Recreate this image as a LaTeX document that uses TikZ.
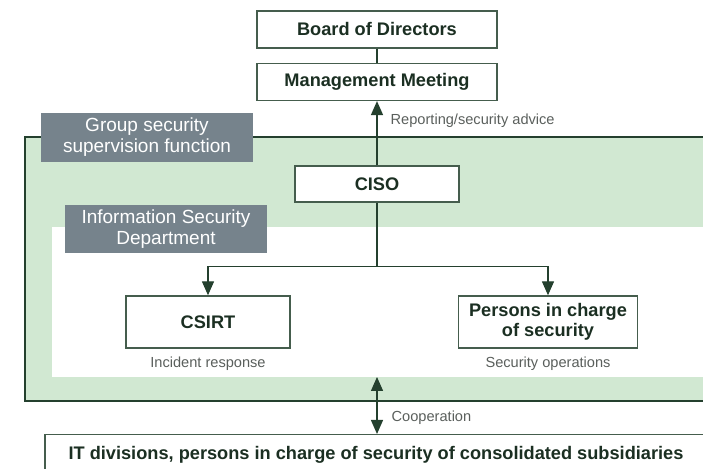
\documentclass[tikz,border=0pt]{standalone}
\usepackage{fontspec}
\setmainfont{Liberation Sans}
\usetikzlibrary{positioning,arrows.meta,calc}
\definecolor{linegreen}{HTML}{24402E}
\definecolor{textgreen}{HTML}{1B2F22}
\definecolor{panelgreen}{HTML}{D1E8D2}
\definecolor{tabgray}{HTML}{76838C}
\definecolor{notegray}{HTML}{5A5F5C}

\begin{document}
\begin{tikzpicture}[
  x=0.5pt, y=-0.5pt,
  box/.style={draw=linegreen!85, line width=0.7pt, fill=white, text=textgreen,
              font=\fontsize{9.1}{10}\selectfont\bfseries, align=center, inner sep=0pt},
  tab/.style={fill=tabgray, text=white, font=\fontsize{9.5}{10.5}\selectfont,
              align=center, inner sep=0pt},
  link/.style={linegreen, line width=0.7pt},
  arr/.style={link, -{Triangle[length=7pt,width=6pt]}},
  biarr/.style={link, {Triangle[length=7pt,width=6pt]}-{Triangle[length=7pt,width=6pt]}},
  note/.style={font=\fontsize{7.3}{8}\selectfont, text=notegray, inner sep=0pt}
]
\useasboundingbox (0,0) rectangle (703,469);
\clip (0,0) rectangle (703,469);
% Panels: group supervision (green), security department (white)
\draw[link, fill=panelgreen] (25,137) rectangle (730,401);
\fill[white] (52,227) rectangle (730,377);
\coordinate (deptbottom) at (377,377);
\node[tab, minimum width=106pt, minimum height=24.5pt] (grptab) at (147,137.5)
  {Group security\\supervision function};
\node[tab, minimum width=101pt, minimum height=24pt] (depttab) at (166,229)
  {Information Security\\Department};
% Top of the chain
\node[box, minimum width=120pt, minimum height=18.5pt] (board) at (377,29.5) {Board of Directors};
\node[box, minimum width=120pt, minimum height=18.5pt, below=7pt of board] (mgmt) {Management Meeting};
\node[box, minimum width=82pt, minimum height=18pt] (ciso) at (377,184) {CISO};
\draw[link] (board) -- (mgmt);
\draw[arr] (ciso) -- node[note, right=6.5pt, pos=0.69] {Reporting/security advice} (mgmt);
% Department units
\node[box, minimum width=82pt, minimum height=26pt] (csirt) at (208,322) {CSIRT};
\node[box, minimum width=89.5pt, minimum height=26pt] (persons) at (548,322) {Persons in charge\\of security};
\node[note, below=4pt of csirt] (csirtnote) {Incident response};
\node[note, below=4pt of persons] (personsnote) {Security operations};
\coordinate (fork) at ($(ciso.south)+(0,64)$);
\draw[link] (ciso.south) -- (fork);
\draw[arr] (fork) -| (csirt.north);
\draw[arr] (fork) -| (persons.north);
% Subsidiaries
\node[box, anchor=north, minimum width=331pt, minimum height=20pt] (subs) at (376,434)
  {IT divisions, persons in charge of security of consolidated subsidiaries};
\draw[biarr] (deptbottom) -- node[note, right=7pt, pos=0.72] {Cooperation} (subs.north -| deptbottom);
\end{tikzpicture}
\end{document}
